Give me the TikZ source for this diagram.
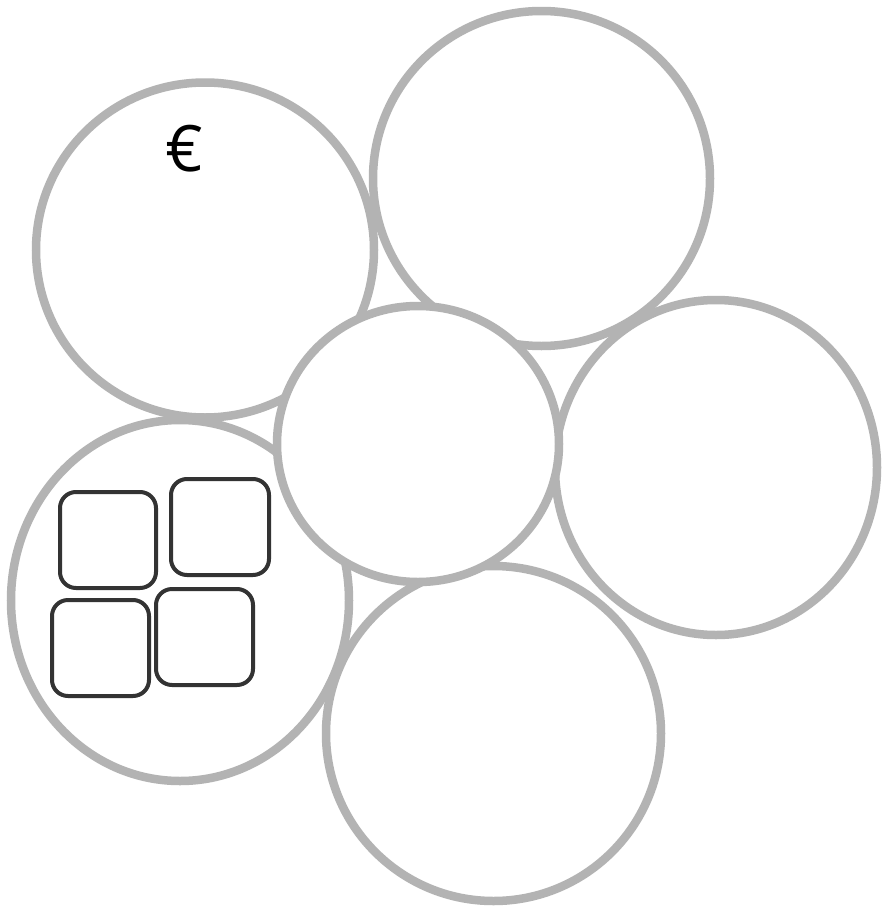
\documentclass[tikz,border=0pt]{standalone}
\usepackage{fontspec}
\setmainfont{Open Sans}
\usetikzlibrary{shapes.geometric}
\definecolor{ringgray}{HTML}{B3B3B3}
\definecolor{boxdark}{HTML}{333333}
\begin{document}
\begin{tikzpicture}[x=1pt,y=-1pt,
  ring/.style={draw=ringgray,line width=8.5pt,ellipse,inner sep=0pt},
  tile/.style={draw=boxdark,line width=4pt,rounded corners=16pt,inner sep=0pt}]
\useasboundingbox (0,0) rectangle (885,908);
\fill[white] (0,0) rectangle (885,908);
% outer circles
\node[ring,minimum width=338pt,minimum height=335pt] (tl) at (205,250) {};
\node[ring,minimum width=337pt,minimum height=335pt] (tr) at (541.5,178.5) {};
\node[ring,minimum width=322pt,minimum height=335pt] (rt) at (716,467.5) {};
\node[ring,minimum width=335pt,minimum height=335pt] (bt) at (493.5,733.5) {};
\node[ring,minimum width=338pt,minimum height=361pt] (bl) at (180,600.5) {};
% central circle, on top
\node[ring,fill=white,minimum width=282pt,minimum height=276pt] (mid) at (418,444) {};
% tiles
\node[tile,minimum width=96pt,minimum height=96pt] (s1) at (108,540) {};
\node[tile,minimum width=98pt,minimum height=96pt] (s2) at (220,527) {};
\node[tile,minimum width=97pt,minimum height=96pt] (s3) at (100.5,648) {};
\node[tile,minimum width=97pt,minimum height=96pt] (s4) at (204.5,637) {};
% euro
\node[inner sep=0pt,font=\fontsize{64}{64}\selectfont] (eur) at (184,149) {€};
\end{tikzpicture}
\end{document}
